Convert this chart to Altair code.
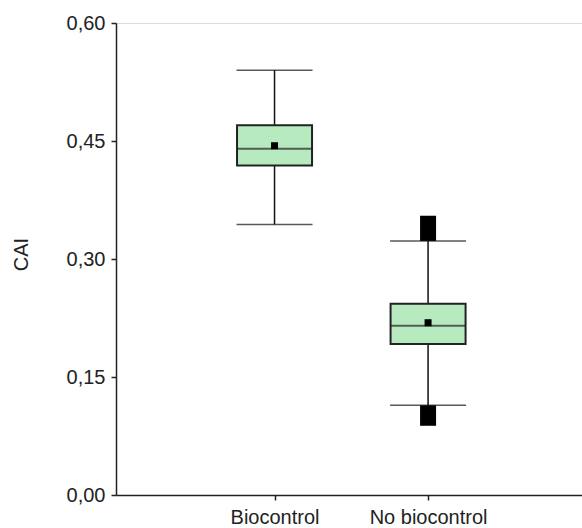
import altair as alt
import pandas as pd

groups = ["Biocontrol", "No biocontrol"]
positions = [1, 2]
whisker_low = [0.344, 0.114]
q1 = [0.419, 0.192]
median = [0.440, 0.215]
q3 = [0.470, 0.243]
whisker_high = [0.540, 0.323]
mean = [0.444, 0.219]

# outlier clusters (drawn as solid blocks of overlapping markers)
outlier_group = ["No biocontrol", "No biocontrol"]
outlier_pos = [2, 2]
outlier_low = [0.323, 0.088]
outlier_high = [0.355, 0.114]

df = pd.DataFrame({
    "group": groups, "pos": positions, "wlo": whisker_low, "q1": q1,
    "med": median, "q3": q3, "whi": whisker_high, "mean": mean,
})
out = pd.DataFrame({"group": outlier_group, "pos": outlier_pos,
                    "lo": outlier_low, "hi": outlier_high})

FONT = "Liberation Sans"
FS = 20
xscale = alt.Scale(domain=[0, 2.97], nice=False, zero=False)
yscale = alt.Scale(domain=[0, 0.6], nice=False)

xaxis = alt.Axis(
    values=[1, 2], title=None, grid=False,
    labelExpr="datum.value == 1 ? 'Biocontrol' : 'No biocontrol'",
    tickSize=5, tickColor="#222", tickWidth=1.5,
    domainColor="#222", domainWidth=1.5,
    labelFont=FONT, labelFontSize=FS, labelColor="#222", labelPadding=7,
)
yaxis = alt.Axis(
    values=[0, 0.15, 0.3, 0.45, 0.6], title="CAI", grid=False,
    labelExpr="replace(format(datum.value, '.2f'), '.', ',')",
    tickSize=5, tickColor="#222", tickWidth=1.5,
    domainColor="#222", domainWidth=1.5,
    labelFont=FONT, labelFontSize=FS, labelColor="#222", labelPadding=6,
    titleFont=FONT, titleFontSize=FS, titleFontWeight="normal", titleColor="#222",
    titleX=-85, titleY=231,
)

base = alt.Chart(df)
X = alt.X("pos:Q", scale=xscale, axis=xaxis)

whisker = base.mark_rule(color="#111", strokeWidth=1.5).encode(
    x=X, y=alt.Y("wlo:Q", scale=yscale, axis=yaxis), y2="whi:Q")
cap_lo = base.mark_tick(orient="horizontal", size=76, thickness=1.5, color="#111").encode(
    x=X, y=alt.Y("wlo:Q", scale=yscale))
cap_hi = base.mark_tick(orient="horizontal", size=76, thickness=1.5, color="#111").encode(
    x=X, y=alt.Y("whi:Q", scale=yscale))
box = base.mark_bar(size=75, color="#b8eac0", stroke="#222", strokeWidth=2).encode(
    x=X, y=alt.Y("q1:Q", scale=yscale), y2="q3:Q")
med = base.mark_tick(orient="horizontal", size=75, thickness=2, color="#222").encode(
    x=X, y=alt.Y("med:Q", scale=yscale))
mn = base.mark_square(size=49, color="black", opacity=1).encode(
    x=X, y=alt.Y("mean:Q", scale=yscale))
outl = alt.Chart(out).mark_bar(size=16, color="black").encode(
    x=alt.X("pos:Q", scale=xscale), y=alt.Y("lo:Q", scale=yscale), y2="hi:Q")

chart = alt.layer(whisker, cap_lo, cap_hi, box, med, mn, outl).properties(
    width=466, height=472,
    autosize=alt.AutoSizeParams(type="none"),
    padding={"left": 116, "top": 23, "right": 0, "bottom": 33},
).configure_view(stroke=None).configure(background="white")

chart.save("out.html", embed_options={"renderer": "svg", "actions": False})
